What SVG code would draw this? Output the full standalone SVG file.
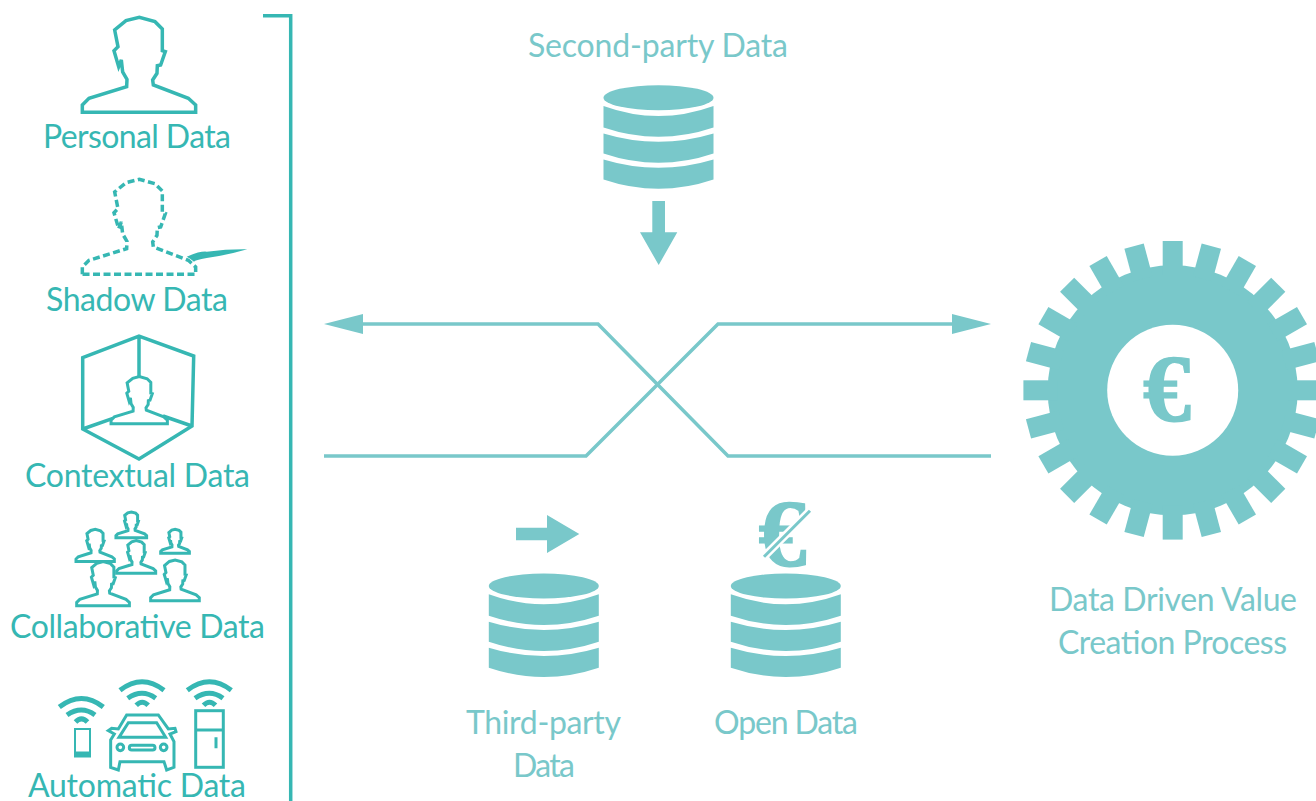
<svg xmlns="http://www.w3.org/2000/svg" width="1316" height="801" viewBox="0 0 1316 801">
<style>
text{font-family:"Lato","Open Sans","Liberation Sans",sans-serif;font-size:32px;font-weight:400}
.dk{fill:#36b7b3}.lt{fill:#79c8ca}
.ln{fill:none;stroke:#36b7b3;stroke-width:3.5;stroke-linejoin:miter}
.ns{vector-effect:non-scaling-stroke}
.wifi{fill:none;stroke:#36b7b3;stroke-width:5}
.conn{fill:none;stroke:#79c8ca;stroke-width:3.5}
.euro{font-family:"Liberation Serif",serif;font-weight:700;fill:#79c8ca;stroke:#79c8ca;stroke-width:1.5;font-size:96px}
.sm{fill:#fff;stroke-width:3}
</style>
<defs>
<path id="person" class="ns" d="M127,337 L127,315 L147,295 L260,260 L261,238 L248,216 L244,180 L236,200 L222,152 L234,140 L224,90 L258,62 L298,52 L345,65 L367,87 L367,152 L376,155 L362,195 L352,197 L351,220 L338,240 L340,255 L445,295 L467,315 L467,337 Z"/>
<g id="db" class="lt">
<ellipse cx="0" cy="0" rx="55" ry="12.5"/>
<path d="M-55,8.3 Q0,28.3 55,8.3 V29.7 Q0,48.3 -55,29.7 Z"/>
<path d="M-55,35.7 Q0,52.3 55,35.7 V55.7 Q0,74.3 -55,55.7 Z"/>
<path d="M-55,61.7 Q0,78.3 55,61.7 V81.7 Q0,100.3 -55,81.7 Z"/>
</g>
<g id="wf" class="wifi">
<path d="M59.3,707 Q81.5,690 103.3,707"/>
<path d="M67,715 Q81.5,705 95,715"/>
<path d="M75.5,722 Q81.5,716 87.5,722"/>
</g>
<rect id="tooth" x="-10" y="-149.3" width="20" height="34" class="lt"/>
<marker id="ah" markerUnits="userSpaceOnUse" viewBox="0 0 39 20" refX="0" refY="10" markerWidth="39" markerHeight="20" orient="auto"><path d="M0,0 L39,10 L0,20 Z" fill="#79c8ca"/></marker>
</defs>

<g id="bracket"><path d="M263,15.7 H290.7 V801" class="ln"/></g>

<g id="personal-data">
<use href="#person" class="ln" transform="translate(40,0) scale(.3333)"/>
<text class="dk" x="43" y="148" textLength="188">Personal Data</text>
</g>
<g id="shadow-data">
<use href="#person" class="ln" stroke-dasharray="7 3.5" transform="translate(40,162) scale(.3333)"/>
<path class="dk" d="M186.7,256.7 Q200,251 206.7,251.7 Q228,249 247.3,249.3 Q228,255 206.7,258 Q195,260 194,261.7 Q190,258 186.7,256.7 Z"/>
<text class="dk" x="46" y="311" textLength="182">Shadow Data</text>
</g>
<g id="contextual-data">
<path class="ln" d="M82.7,357.7 L139,336 L193.7,356 L192,426 L139,459 L82.7,429 Z M139,336 V376.7 M82.7,429 L113,418.3 M192,426 L163,416"/>
<use href="#person" class="ln sm" transform="translate(90,368) scale(.1657)"/>
<text class="dk" x="25" y="487" textLength="225">Contextual Data</text>
</g>
<g id="collaborative-data">
<use href="#person" class="ln sm" transform="translate(104.5,507.3) scale(.0902)"/>
<use href="#person" class="ln sm" transform="translate(61.7,523.5) scale(.1127)"/>
<use href="#person" class="ln sm" transform="translate(150,524.9) scale(.0843)"/>
<use href="#person" class="ln sm" transform="translate(102.1,534.7) scale(.1147)"/>
<use href="#person" class="ln sm" transform="translate(57,553.6) scale(.155)"/>
<use href="#person" class="ln sm" transform="translate(132.5,552.6) scale(.143)"/>
<text class="dk" x="10" y="638" textLength="255">Collaborative Data</text>
</g>
<g id="automatic-data">
<use href="#wf"/>
<use href="#wf" transform="translate(60.7,-16.7)"/>
<use href="#wf" transform="translate(128,-16.7)"/>
<rect class="ln" x="75" y="729" width="15" height="27.5" style="stroke-width:2"/>
<rect class="dk" x="75" y="751.5" width="15" height="5.5"/>
<rect class="ln" x="195.7" y="710.7" width="27.6" height="56.6" style="stroke-width:3"/>
<path class="ln" d="M195.7,730 H223.3 M216,737.3 V748.3" style="stroke-width:3"/>
<g transform="translate(20,660) scale(.3333)">
<path class="ln ns" style="stroke-width:3" d="M272,322 L272,240 L283,222 L265,212 L275,205 L295,207 L320,165 L415,165 L445,207 L465,205 L468,215 L450,222 L462,245 L462,322 L440,330 L432,305 L300,305 L295,330 Z M297,232 L325,188 L410,188 L437,232 Z"/>
<circle class="ln ns" style="stroke-width:3" cx="301" cy="262" r="10"/>
<circle class="ln ns" style="stroke-width:3" cx="431" cy="262" r="10"/>
<rect class="ln ns" style="stroke-width:3" x="328" y="256" width="77" height="14" rx="7"/>
</g>
<text class="dk" x="28" y="797" textLength="218">Automatic Data</text>
</g>

<g id="second-party-data">
<text class="lt" x="528" y="57" textLength="260">Second-party Data</text>
<use href="#db" x="658.5" y="97.7"/>
<path class="lt" d="M652.3,201 H665 V232.3 H677.3 L658.7,265 L640,232.3 H652.3 Z"/>
</g>
<g id="third-party-data">
<path class="lt" d="M516,527.7 H547 V515 L579.3,534 L547,553 V540.3 H516 Z"/>
<use href="#db" x="543.8" y="586"/>
<text class="lt" x="466" y="734" textLength="155">Third-party</text>
<text class="lt" x="513" y="777" textLength="62">Data</text>
</g>
<g id="open-data">
<text class="euro" x="782.5" y="566" text-anchor="middle">€</text>
<path d="M764,556.7 L810,510.7" stroke="#fff" stroke-width="8" fill="none"/>
<path d="M764,556.7 L810,510.7" stroke="#79c8ca" stroke-width="3" fill="none"/>
<use href="#db" x="785.8" y="586"/>
<text class="lt" x="714" y="734" textLength="144">Open Data</text>
</g>
<g id="value-creation">
<g transform="translate(1172.7,390.3)">
<circle r="125" class="lt"/>
<use href="#tooth"/><use href="#tooth" transform="rotate(15)"/><use href="#tooth" transform="rotate(30)"/><use href="#tooth" transform="rotate(45)"/><use href="#tooth" transform="rotate(60)"/><use href="#tooth" transform="rotate(75)"/><use href="#tooth" transform="rotate(90)"/><use href="#tooth" transform="rotate(105)"/><use href="#tooth" transform="rotate(120)"/><use href="#tooth" transform="rotate(135)"/><use href="#tooth" transform="rotate(150)"/><use href="#tooth" transform="rotate(165)"/><use href="#tooth" transform="rotate(180)"/><use href="#tooth" transform="rotate(195)"/><use href="#tooth" transform="rotate(210)"/><use href="#tooth" transform="rotate(225)"/><use href="#tooth" transform="rotate(240)"/><use href="#tooth" transform="rotate(255)"/><use href="#tooth" transform="rotate(270)"/><use href="#tooth" transform="rotate(285)"/><use href="#tooth" transform="rotate(300)"/><use href="#tooth" transform="rotate(315)"/><use href="#tooth" transform="rotate(330)"/><use href="#tooth" transform="rotate(345)"/>
<circle r="65.5" fill="#fff"/>
</g>
<text class="euro" x="1167" y="421" text-anchor="middle">€</text>
<text class="lt" x="1049" y="611" textLength="248">Data Driven Value</text>
<text class="lt" x="1058" y="654" textLength="229">Creation Process</text>
</g>

<g id="connectors">
<path class="conn" d="M991,456 H728 L598,324 H363" marker-end="url(#ah)"/>
<path class="conn" d="M324,456 H586 L718,324 H952" marker-end="url(#ah)"/>
</g>
</svg>
